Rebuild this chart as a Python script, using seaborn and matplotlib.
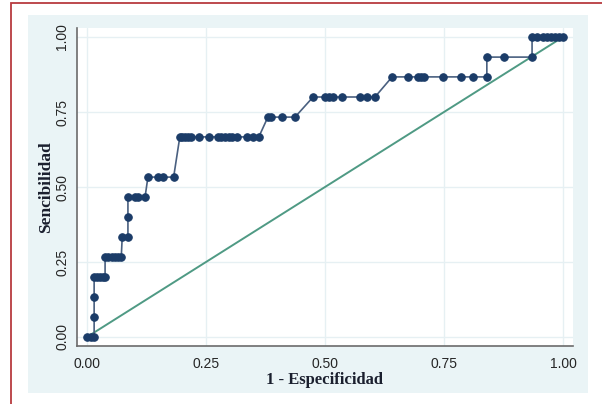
import matplotlib
matplotlib.use("Agg")
import matplotlib.pyplot as plt
import seaborn as sns
import pandas as pd
from matplotlib.patches import Rectangle

# ROC points (1 - specificity, sensitivity)
fpr = [0.000, 0.008, 0.015, 0.015, 0.015, 0.015, 0.021, 0.027, 0.033, 0.038,
       0.038, 0.045, 0.052, 0.059, 0.066, 0.072,
       0.074, 0.086, 0.086, 0.086,
       0.100, 0.107, 0.122,
       0.128, 0.150, 0.160, 0.182,
       0.195, 0.200, 0.206, 0.212, 0.218, 0.235, 0.256, 0.275, 0.282, 0.290,
       0.298, 0.305, 0.315, 0.336, 0.349, 0.361,
       0.380, 0.386, 0.410, 0.437,
       0.475, 0.500, 0.508, 0.517, 0.535, 0.574, 0.588, 0.605,
       0.641, 0.675, 0.695, 0.702, 0.708, 0.748, 0.786, 0.811, 0.840,
       0.840, 0.876, 0.935,
       0.935, 0.945, 0.958, 0.967, 0.975, 0.983, 0.992, 1.000]
tpr = [0.000, 0.000, 0.000, 0.067, 0.133, 0.200, 0.200, 0.200, 0.200, 0.200,
       0.267, 0.267, 0.267, 0.267, 0.267, 0.267,
       0.333, 0.333, 0.400, 0.467,
       0.467, 0.467, 0.467,
       0.533, 0.533, 0.533, 0.533,
       0.667, 0.667, 0.667, 0.667, 0.667, 0.667, 0.667, 0.667, 0.667, 0.667,
       0.667, 0.667, 0.667, 0.667, 0.667, 0.667,
       0.733, 0.733, 0.733, 0.733,
       0.800, 0.800, 0.800, 0.800, 0.800, 0.800, 0.800, 0.800,
       0.867, 0.867, 0.867, 0.867, 0.867, 0.867, 0.867, 0.867, 0.867,
       0.933, 0.933, 0.933,
       1.000, 1.000, 1.000, 1.000, 1.000, 1.000, 1.000, 1.000]

ref_x = [0.0, 1.0]
ref_y = [0.0, 1.0]
ticks = [0.0, 0.25, 0.5, 0.75, 1.0]
tick_labels = ["0.00", "0.25", "0.50", "0.75", "1.00"]

roc = pd.DataFrame({"fpr": fpr, "tpr": tpr})
ref = pd.DataFrame({"x": ref_x, "y": ref_y})

sns.set_style("white")
plt.rcParams['font.family'] = ['Liberation Sans', 'DejaVu Sans']

fig = plt.figure(figsize=(6.02, 4.04), dpi=100)
W, H = 602, 404

# outer red frame (only left and top edges visible) and light graph region
fig.patches.append(Rectangle((11 / W, -0.1), 1.2, (H - 3) / H + 0.1,
                             transform=fig.transFigure, fill=False,
                             edgecolor="#b83a3f", lw=1.3, zorder=-2))
fig.patches.append(Rectangle((28 / W, (H - 393) / H), 560 / W, 378 / H,
                             transform=fig.transFigure, facecolor="#eaf4f6",
                             edgecolor="none", zorder=-1))

ax = fig.add_axes([77 / W, (H - 346) / H, 496 / W, 318 / H])
ax.set_facecolor("white")

sns.lineplot(data=ref, x="x", y="y", ax=ax, color="#4f9a84", lw=1.4,
             sort=False, estimator=None, zorder=2)
sns.lineplot(data=roc, x="fpr", y="tpr", ax=ax, color="#4a6080", lw=1.2,
             marker="o", markersize=5.4, markerfacecolor="#1b3c68",
             markeredgecolor="#1b3c68", sort=False, estimator=None, zorder=3)

ax.set_xlim(-0.021, 1.021)
ax.set_ylim(-0.03, 1.03)
ax.set_xticks(ticks)
ax.set_xticklabels(tick_labels)
ax.set_yticks(ticks)
ax.set_yticklabels(tick_labels, rotation=90, va="center")
ax.grid(True, color="#e6f0f3", lw=1.0)
ax.set_axisbelow(True)

for side in ["top", "right"]:
    ax.spines[side].set_visible(False)
for side in ["left", "bottom"]:
    ax.spines[side].set_color("#6b6b6b")
    ax.spines[side].set_linewidth(1.2)
ax.tick_params(axis="both", direction="out", length=4, width=1, color="#6b6b6b",
               labelsize=10, labelcolor="#262626")
ax.tick_params(axis="x", pad=4)
ax.tick_params(axis="y", pad=1.5)

ax.set_xlabel("1 - Especificidad", family=["Liberation Serif", "DejaVu Serif"],
              fontweight="bold", fontsize=12, color="#1a1f2e", labelpad=1)
ax.set_ylabel("Sencibilidad", family=["Liberation Serif", "DejaVu Serif"],
              fontweight="bold", fontsize=12.5, color="#1a1f2e", labelpad=1)

fig.savefig("out.png", dpi=100)
